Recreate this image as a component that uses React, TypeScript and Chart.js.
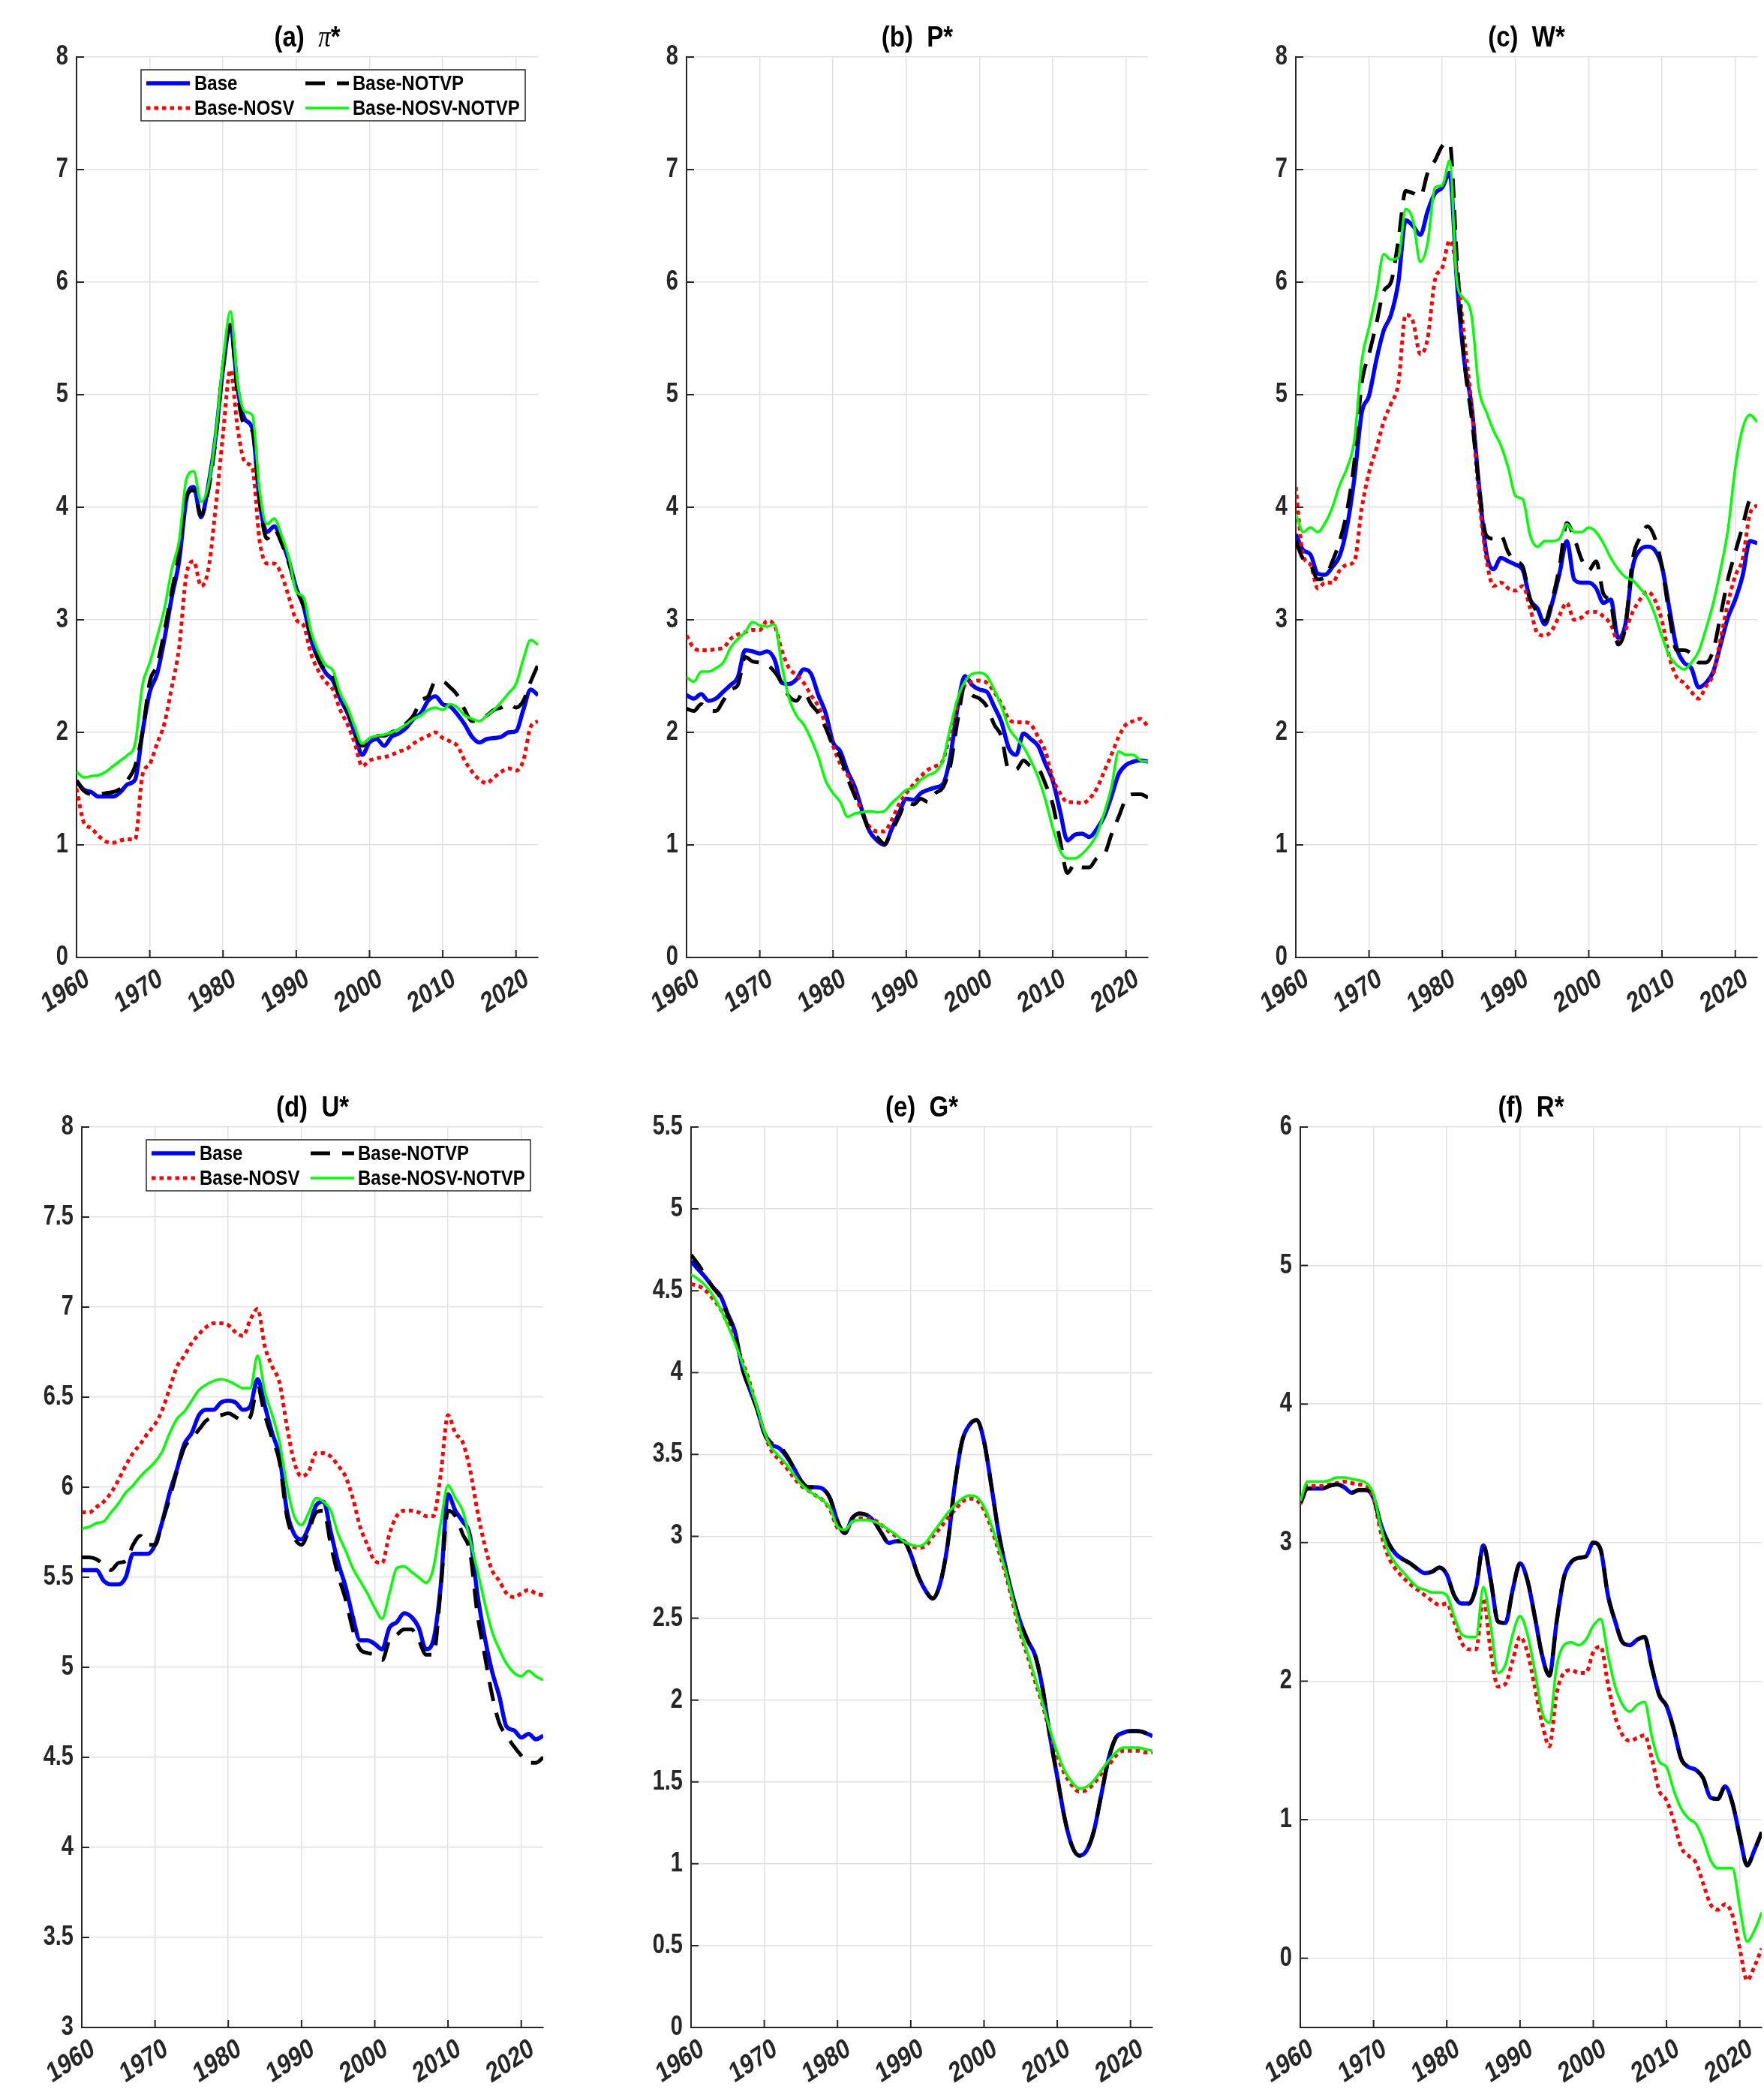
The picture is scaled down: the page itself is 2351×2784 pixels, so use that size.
import React, { useEffect, useRef } from "react";
import { Chart, registerables } from "chart.js";

Chart.register(...registerables);

// ---------------- data ----------------
const YEARS = [
  1960, 1961, 1962, 1963, 1964, 1965, 1966, 1967, 1968, 1969,
  1970, 1971, 1972, 1973, 1974, 1975, 1976, 1977, 1978, 1979,
  1980, 1981, 1982, 1983, 1984, 1985, 1986, 1987, 1988, 1989,
  1990, 1991, 1992, 1993, 1994, 1995, 1996, 1997, 1998, 1999,
  2000, 2001, 2002, 2003, 2004, 2005, 2006, 2007, 2008, 2009,
  2010, 2011, 2012, 2013, 2014, 2015, 2016, 2017, 2018, 2019,
  2020, 2021, 2022, 2023,
];

const X_TICKS = [1960, 1970, 1980, 1990, 2000, 2010, 2020];
const Y_TICKS_0_8 = [0, 1, 2, 3, 4, 5, 6, 7, 8];
const Y_TICKS_U = [3, 3.5, 4, 4.5, 5, 5.5, 6, 6.5, 7, 7.5, 8];
const Y_TICKS_G = [0, 0.5, 1, 1.5, 2, 2.5, 3, 3.5, 4, 4.5, 5, 5.5];
const Y_TICKS_R = [0, 1, 2, 3, 4, 5, 6];

const SERIES_LABELS = ["Base", "Base-NOSV", "Base-NOTVP", "Base-NOSV-NOTVP"];

// (a) pi*
const PI_BASE = [
  1.57, 1.49, 1.47, 1.43, 1.43, 1.43, 1.47, 1.54, 1.58, 2.0,
  2.36, 2.52, 2.83, 3.2, 3.52, 4.07, 4.18, 3.91, 4.2, 4.63,
  5.23, 5.62, 5.05, 4.78, 4.7, 4.05, 3.78, 3.83, 3.7, 3.52,
  3.28, 3.12, 2.83, 2.65, 2.53, 2.46, 2.3, 2.17, 1.99, 1.8,
  1.91, 1.94, 1.88, 1.96, 1.99, 2.04, 2.12, 2.17, 2.28, 2.32,
  2.25, 2.23, 2.16, 2.07, 1.96, 1.91, 1.94, 1.95, 1.96, 2.0,
  2.01, 2.2, 2.38, 2.33,
];
const PI_NOTVP = [
  1.57, 1.48, 1.45, 1.45, 1.46, 1.47, 1.5, 1.58, 1.7, 2.0,
  2.45, 2.6, 2.9, 3.25, 3.6, 4.1, 4.15, 3.93, 4.15, 4.6,
  5.25, 5.62, 5.0, 4.72, 4.68, 4.05, 3.72, 3.8, 3.68, 3.5,
  3.28, 3.12, 2.85, 2.65, 2.55, 2.5, 2.3, 2.2, 2.0, 1.88,
  1.93, 1.97, 1.97, 2.0, 2.03, 2.08, 2.15, 2.28, 2.32, 2.45,
  2.45, 2.4, 2.33, 2.2, 2.1, 2.12, 2.15, 2.2, 2.22, 2.25,
  2.22, 2.28, 2.45, 2.6,
];
const PI_NOSV = [
  1.5, 1.2, 1.15, 1.08, 1.03, 1.02, 1.04, 1.05, 1.05, 1.62,
  1.72, 1.9, 2.08, 2.4, 2.75, 3.4, 3.52, 3.3, 3.45, 4.0,
  4.65, 5.22, 4.7, 4.4, 4.35, 3.7, 3.5, 3.5, 3.4, 3.2,
  3.0, 2.95, 2.7, 2.55, 2.45, 2.38, 2.2, 2.07, 1.9, 1.7,
  1.75, 1.77, 1.78, 1.8, 1.83, 1.85, 1.9, 1.94, 1.97, 2.0,
  1.95, 1.92, 1.88, 1.75, 1.65, 1.58, 1.55, 1.6, 1.65, 1.68,
  1.66, 1.75, 2.05, 2.1,
];
const PI_NOSV_NOTVP = [
  1.65, 1.6, 1.61, 1.62, 1.65, 1.7, 1.75, 1.8, 1.9, 2.42,
  2.62, 2.85, 3.1, 3.45, 3.7, 4.25, 4.32, 4.05, 4.2, 4.65,
  5.3, 5.74, 5.1, 4.85, 4.82, 4.15, 3.85, 3.9, 3.75, 3.55,
  3.25, 3.2, 2.9, 2.72, 2.6, 2.55, 2.35, 2.22, 2.05, 1.9,
  1.95, 1.97, 1.98, 2.0, 2.03, 2.07, 2.12, 2.15, 2.2, 2.22,
  2.2, 2.25, 2.22, 2.15, 2.12, 2.1, 2.15, 2.2, 2.27, 2.35,
  2.43, 2.65, 2.82, 2.78,
];

// (b) P*
const P_BASE = [
  2.33, 2.3, 2.34, 2.28, 2.3, 2.36, 2.42, 2.49, 2.73, 2.72,
  2.7, 2.72, 2.65, 2.44, 2.43, 2.47, 2.56, 2.52, 2.33, 2.17,
  1.91, 1.83, 1.65, 1.51, 1.3, 1.12, 1.04, 1.0, 1.14, 1.28,
  1.41, 1.4, 1.46, 1.49, 1.51, 1.54, 1.78, 2.22, 2.5, 2.42,
  2.38, 2.36, 2.23, 2.09, 1.86, 1.8, 1.99, 1.94, 1.88, 1.72,
  1.57, 1.3, 1.04, 1.09, 1.1, 1.07, 1.14, 1.25, 1.43, 1.63,
  1.71, 1.74, 1.75, 1.74,
];
const P_NOTVP = [
  2.21, 2.19, 2.25, 2.2, 2.19, 2.28, 2.38, 2.42, 2.67, 2.63,
  2.62, 2.6, 2.54, 2.44, 2.32, 2.28, 2.36, 2.25, 2.17, 2.04,
  1.88, 1.78, 1.59, 1.43, 1.28, 1.12, 1.07, 1.01, 1.12, 1.25,
  1.38, 1.36, 1.41, 1.38, 1.46, 1.51, 1.7, 2.1, 2.41, 2.33,
  2.3, 2.23, 2.07, 1.96, 1.67, 1.67, 1.75, 1.7, 1.68, 1.54,
  1.36, 1.04, 0.75, 0.83, 0.8, 0.8, 0.88, 0.91, 1.09, 1.25,
  1.41, 1.45, 1.45, 1.42,
];
const P_NOSV = [
  2.86, 2.75, 2.73, 2.73, 2.74, 2.75, 2.83, 2.87, 2.89, 2.91,
  2.91, 2.99, 2.95, 2.73, 2.57, 2.51, 2.44, 2.33, 2.23, 2.07,
  1.88, 1.72, 1.62, 1.46, 1.28, 1.16, 1.12, 1.12, 1.22, 1.36,
  1.46, 1.54, 1.61, 1.67, 1.7, 1.75, 1.99, 2.25, 2.42, 2.45,
  2.46, 2.44, 2.36, 2.25, 2.12, 2.09, 2.09, 2.07, 1.96, 1.83,
  1.59, 1.46, 1.38, 1.38, 1.37, 1.41, 1.5, 1.65, 1.8, 1.96,
  2.07, 2.1, 2.12, 2.05,
];
const P_NOSV_NOTVP = [
  2.49, 2.45, 2.54, 2.54, 2.57, 2.62, 2.75, 2.83, 2.89, 2.98,
  2.95, 2.94, 2.96, 2.6, 2.3, 2.15, 2.07, 1.94, 1.78, 1.57,
  1.46, 1.38, 1.25, 1.28, 1.29, 1.3, 1.29, 1.3, 1.37, 1.43,
  1.49, 1.51, 1.58, 1.62, 1.65, 1.75, 2.04, 2.3, 2.45, 2.52,
  2.53, 2.5, 2.38, 2.23, 2.04, 1.95, 1.87, 1.75, 1.6, 1.4,
  1.15, 0.95, 0.88, 0.88, 0.92, 0.99, 1.09, 1.28, 1.51, 1.83,
  1.8, 1.8, 1.75, 1.74,
];

// (c) W*
const W_BASE = [
  3.76, 3.62, 3.58, 3.41, 3.4, 3.47, 3.57, 3.83, 4.26, 4.84,
  4.99, 5.31, 5.57, 5.71, 6.0, 6.55, 6.5, 6.42, 6.63, 6.79,
  6.84, 6.97, 6.0, 5.3, 4.9, 4.2, 3.6, 3.45, 3.55, 3.52,
  3.49, 3.44, 3.18, 3.1, 2.96, 3.15, 3.41, 3.7, 3.36, 3.33,
  3.33, 3.28, 3.15, 3.18, 2.84, 2.96, 3.47, 3.62, 3.65, 3.62,
  3.47, 3.1, 2.75, 2.62, 2.57, 2.4, 2.44, 2.54, 2.78, 3.02,
  3.18, 3.39, 3.7, 3.68,
];
const W_NOTVP = [
  3.7, 3.54, 3.49, 3.36, 3.38, 3.52, 3.7, 3.97, 4.41, 5.1,
  5.36, 5.63, 5.92, 6.0, 6.37, 6.81, 6.79, 6.76, 6.97, 7.08,
  7.21, 7.24, 6.2, 5.3, 4.8, 4.2, 3.75, 3.72, 3.75, 3.6,
  3.52, 3.47, 3.18, 3.07, 2.99, 3.18, 3.47, 3.86, 3.73, 3.54,
  3.44, 3.52, 3.23, 3.15, 2.78, 2.94, 3.54, 3.73, 3.83, 3.73,
  3.47, 3.04, 2.73, 2.73, 2.7, 2.62, 2.62, 2.73, 3.04, 3.36,
  3.6, 3.83, 4.07, 4.11,
];
const W_NOSV = [
  4.18, 3.57, 3.49, 3.28, 3.33, 3.33, 3.44, 3.49, 3.52, 3.99,
  4.31, 4.52, 4.76, 4.92, 5.1, 5.71, 5.65, 5.36, 5.5, 6.02,
  6.13, 6.37, 6.1, 5.5, 4.9, 4.1, 3.55, 3.3, 3.33, 3.28,
  3.26, 3.3, 3.1, 2.88, 2.86, 2.91, 3.04, 3.15, 3.0, 3.02,
  3.07, 3.07, 3.03, 2.96, 2.81, 2.91, 3.07, 3.18, 3.25, 3.18,
  2.99, 2.67, 2.49, 2.44, 2.36, 2.3, 2.41, 2.52, 2.83, 3.15,
  3.39, 3.54, 3.94, 4.02,
];
const W_NOSV_NOTVP = [
  3.94, 3.78, 3.82, 3.78, 3.86, 4.0, 4.2, 4.35, 4.6, 5.3,
  5.6, 5.9, 6.25, 6.2, 6.22, 6.65, 6.55, 6.18, 6.35, 6.84,
  6.86, 7.08, 6.0, 5.85, 5.7, 5.05, 4.85, 4.68, 4.55, 4.35,
  4.1, 4.07, 3.75, 3.65, 3.7, 3.7, 3.72, 3.85, 3.78, 3.78,
  3.82, 3.78, 3.68, 3.55, 3.45, 3.38, 3.35, 3.28, 3.2, 3.05,
  2.85, 2.68, 2.6, 2.56, 2.62, 2.72, 2.92, 3.15, 3.45, 3.8,
  4.35, 4.7, 4.82, 4.76,
];

// (d) U*
const U_BASE = [
  5.54, 5.54, 5.54, 5.48, 5.46, 5.46, 5.5, 5.63, 5.63, 5.63,
  5.68, 5.81, 5.97, 6.1, 6.24, 6.3, 6.4, 6.43, 6.43, 6.47,
  6.48, 6.47, 6.43, 6.45, 6.6, 6.45, 6.3, 6.17, 5.87, 5.74,
  5.71, 5.78, 5.9, 5.92, 5.75, 5.58, 5.45, 5.28, 5.15, 5.15,
  5.13, 5.1, 5.22, 5.25, 5.3, 5.28, 5.22, 5.1, 5.15, 5.45,
  5.96, 5.87, 5.81, 5.73, 5.41, 5.17, 4.98, 4.84, 4.67, 4.65,
  4.61, 4.63, 4.6, 4.62,
];
const U_NOTVP = [
  5.61, 5.61, 5.6, 5.57, 5.54, 5.58, 5.59, 5.68, 5.73, 5.68,
  5.68, 5.81, 5.94, 6.09, 6.22, 6.27, 6.32, 6.37, 6.39, 6.4,
  6.41, 6.39, 6.37, 6.39, 6.55, 6.4, 6.27, 6.14, 5.84, 5.72,
  5.68, 5.76, 5.86, 5.87, 5.68, 5.51, 5.38, 5.21, 5.1, 5.08,
  5.07, 5.04, 5.15, 5.18, 5.21, 5.21, 5.15, 5.07, 5.07, 5.43,
  5.87, 5.84, 5.74, 5.64, 5.3, 5.07, 4.85, 4.69, 4.62, 4.56,
  4.51, 4.47, 4.47, 4.5,
];
const U_NOSV = [
  5.86, 5.86, 5.89, 5.92, 5.97, 6.04, 6.12, 6.19, 6.24, 6.3,
  6.35, 6.43, 6.55, 6.67, 6.73, 6.8, 6.85, 6.89, 6.91, 6.91,
  6.9, 6.86, 6.84, 6.93, 6.99, 6.78, 6.67, 6.58, 6.34, 6.14,
  6.06, 6.09, 6.19, 6.19, 6.17, 6.12, 6.06, 5.94, 5.78, 5.68,
  5.59, 5.58, 5.74, 5.84, 5.87, 5.87, 5.86, 5.84, 5.84, 6.07,
  6.4, 6.3, 6.25, 6.1, 5.87, 5.68, 5.54, 5.48, 5.41, 5.39,
  5.41, 5.43, 5.41, 5.4,
];
const U_NOSV_NOTVP = [
  5.77, 5.78, 5.8, 5.81, 5.86, 5.91, 5.97, 6.01, 6.06, 6.1,
  6.14, 6.2, 6.3, 6.38, 6.42, 6.48, 6.54, 6.57, 6.59, 6.6,
  6.59, 6.57, 6.55, 6.55, 6.73, 6.53, 6.4, 6.25, 6.01, 5.84,
  5.79, 5.86, 5.94, 5.92, 5.87, 5.74, 5.65, 5.55, 5.48, 5.41,
  5.33, 5.27, 5.41, 5.55, 5.56, 5.53, 5.5, 5.47, 5.55, 5.8,
  6.01, 5.94, 5.87, 5.71, 5.54, 5.36, 5.2, 5.1, 5.02, 4.97,
  4.95, 4.98, 4.95, 4.93,
];

// (e) G*
const G_BASE = [
  4.68, 4.63, 4.58, 4.52, 4.47, 4.36, 4.25, 4.03, 3.9, 3.78,
  3.63, 3.56, 3.54, 3.49, 3.42, 3.34, 3.3, 3.3, 3.29, 3.23,
  3.09, 3.02, 3.11, 3.14, 3.13, 3.09, 3.02, 2.96, 2.97, 2.97,
  2.89, 2.76, 2.67, 2.62, 2.71, 2.94, 3.31, 3.58, 3.68, 3.71,
  3.58, 3.31, 3.02, 2.8, 2.62, 2.47, 2.36, 2.27, 2.07, 1.78,
  1.53, 1.28, 1.11, 1.05, 1.08, 1.2, 1.42, 1.64, 1.77, 1.8,
  1.81, 1.81, 1.8, 1.78,
];
const G_NOTVP = [
  4.72, 4.66, 4.59, 4.52, 4.46, 4.35, 4.24, 4.03, 3.9, 3.78,
  3.63, 3.57, 3.55, 3.5, 3.42, 3.34, 3.3, 3.3, 3.29, 3.23,
  3.09, 3.02, 3.11, 3.14, 3.13, 3.09, 3.02, 2.96, 2.97, 2.97,
  2.89, 2.76, 2.67, 2.62, 2.71, 2.94, 3.31, 3.58, 3.68, 3.71,
  3.58, 3.31, 3.02, 2.8, 2.62, 2.47, 2.36, 2.27, 2.07, 1.78,
  1.53, 1.28, 1.11, 1.05, 1.08, 1.2, 1.42, 1.64, 1.77, 1.8,
  1.81, 1.81, 1.8, 1.78,
];
const G_NOSV = [
  4.54, 4.53, 4.5, 4.45, 4.39, 4.3, 4.2, 4.07, 3.94, 3.78,
  3.63, 3.52, 3.47, 3.42, 3.36, 3.31, 3.28, 3.25, 3.22, 3.16,
  3.05, 3.03, 3.09, 3.11, 3.11, 3.1, 3.07, 3.03, 3.0, 2.96,
  2.94, 2.93, 2.94, 3.0, 3.05, 3.11, 3.16, 3.21, 3.23, 3.22,
  3.16, 3.05, 2.91, 2.76, 2.58, 2.4, 2.26, 2.11, 1.97, 1.8,
  1.66, 1.55, 1.48, 1.44, 1.45, 1.49, 1.55, 1.6, 1.66, 1.69,
  1.69, 1.69, 1.68, 1.68,
];
const G_NOSV_NOTVP = [
  4.6, 4.57, 4.53, 4.47, 4.39, 4.29, 4.18, 4.06, 3.93, 3.79,
  3.64, 3.54, 3.49, 3.44, 3.38, 3.32, 3.28, 3.25, 3.22, 3.17,
  3.06, 3.04, 3.09, 3.1, 3.1, 3.09, 3.07, 3.04, 3.01, 2.97,
  2.95, 2.94, 2.96, 3.02, 3.08, 3.14, 3.19, 3.23, 3.25, 3.24,
  3.18, 3.07, 2.93, 2.78, 2.6, 2.42, 2.28, 2.13, 1.98, 1.82,
  1.68, 1.57, 1.5, 1.46, 1.47, 1.51, 1.57, 1.63, 1.68, 1.71,
  1.71, 1.71, 1.7, 1.69,
];

// (f) R*
const R_BASE = [
  3.28, 3.39, 3.39, 3.39, 3.41, 3.42, 3.4, 3.36, 3.38, 3.38,
  3.32, 3.13, 3.0, 2.92, 2.88, 2.85, 2.81, 2.78, 2.79, 2.82,
  2.77, 2.62, 2.56, 2.56, 2.68, 2.98, 2.73, 2.43, 2.42, 2.66,
  2.85, 2.73, 2.47, 2.19, 2.04, 2.43, 2.75, 2.86, 2.89, 2.9,
  3.0, 2.95, 2.62, 2.43, 2.28, 2.26, 2.3, 2.32, 2.1, 1.9,
  1.82, 1.65, 1.44, 1.38, 1.36, 1.3, 1.16, 1.15, 1.24, 1.12,
  0.88, 0.67, 0.78, 0.91,
];
const R_NOTVP = [
  3.29, 3.39, 3.39, 3.39, 3.41, 3.42, 3.4, 3.36, 3.38, 3.38,
  3.32, 3.13, 3.0, 2.92, 2.88, 2.85, 2.81, 2.78, 2.79, 2.82,
  2.77, 2.62, 2.56, 2.56, 2.68, 2.98, 2.73, 2.43, 2.42, 2.66,
  2.85, 2.73, 2.47, 2.19, 2.04, 2.43, 2.75, 2.86, 2.89, 2.9,
  3.0, 2.95, 2.62, 2.43, 2.28, 2.26, 2.3, 2.32, 2.1, 1.9,
  1.82, 1.65, 1.44, 1.38, 1.36, 1.3, 1.16, 1.15, 1.24, 1.12,
  0.88, 0.67, 0.78, 0.91,
];
const R_NOSV = [
  3.28, 3.41, 3.41, 3.41, 3.42, 3.43, 3.44, 3.43, 3.42, 3.41,
  3.32, 3.07, 2.9, 2.81, 2.75, 2.7, 2.66, 2.62, 2.58, 2.55,
  2.56, 2.43, 2.28, 2.23, 2.23, 2.6, 2.21, 1.96, 1.98, 2.15,
  2.32, 2.21, 1.96, 1.7, 1.53, 1.91, 2.06, 2.08, 2.06, 2.06,
  2.21, 2.25, 1.98, 1.74, 1.61, 1.57, 1.59, 1.61, 1.44, 1.21,
  1.14, 0.99, 0.8, 0.74, 0.69, 0.54, 0.39, 0.35, 0.39, 0.31,
  0.07, -0.16, -0.06, 0.07,
];
const R_NOSV_NOTVP = [
  3.3, 3.44, 3.44, 3.44, 3.45, 3.47, 3.47, 3.46, 3.45, 3.43,
  3.35, 3.11, 2.94, 2.85, 2.79, 2.73, 2.68, 2.66, 2.64, 2.64,
  2.62, 2.47, 2.34, 2.32, 2.32, 2.68, 2.4, 2.06, 2.12, 2.34,
  2.47, 2.34, 2.08, 1.78, 1.7, 2.11, 2.26, 2.28, 2.26, 2.3,
  2.4, 2.45, 2.19, 1.96, 1.83, 1.78, 1.83, 1.85, 1.6, 1.42,
  1.38, 1.21, 1.08, 1.01, 0.97, 0.86, 0.71, 0.65, 0.65, 0.65,
  0.37, 0.12, 0.2, 0.33,
];

// ---------------- styling / layout ----------------
const FONT = '"Liberation Sans", Arial, Helvetica, sans-serif';
const AXIS_COLOR = "#262626";
const GRID_COLOR = "#e1e1e1";
const YTICK_SIZE = 29;
const XTICK_SIZE = 30;
const TITLE_SIZE = 33;
const LEGEND_SIZE = 24;
const SY_TICK = 1.25; // vertical stretch of glyphs seen in the reference
const SY_TITLE = 1.2;
const SY_LEGEND = 1.15;
const XLABEL_ANGLE = (28 * Math.PI) / 180;
const TICK_LEN = 10;

const PLOT_W = 615;
const PLOT_H = 1200;
const PAD_L = 100;
const PAD_T = 76;
const PAD_R = 3;
const PAD_B = 110;
const CW = PAD_L + PLOT_W + PAD_R;
const CH = PAD_T + PLOT_H + PAD_B;

type SeriesStyle = { color: string; width: number; dash: number[]; order: number };
const STYLE_BASE: SeriesStyle = { color: "#0000ff", width: 5.5, dash: [], order: 3 };
const STYLE_NOSV: SeriesStyle = { color: "#ff0000", width: 5, dash: [5.5, 5], order: 2 };
const STYLE_NOTVP: SeriesStyle = { color: "#000000", width: 5, dash: [26, 16], order: 1 };
const STYLE_NOSV_NOTVP: SeriesStyle = { color: "#00ff00", width: 3.5, dash: [], order: 0 };
const STYLES = [STYLE_BASE, STYLE_NOSV, STYLE_NOTVP, STYLE_NOSV_NOTVP];

type PanelSpec = {
  tag: string;
  sym: string;
  symItalic: boolean;
  left: number;
  top: number;
  yMin: number;
  yMax: number;
  yTicks: number[];
  series: number[][]; // Base, NOSV, NOTVP, NOSV-NOTVP
  legend: boolean;
};

const PANELS: PanelSpec[] = [
  { tag: "(a)", sym: "π", symItalic: true, left: 102, top: 76, yMin: 0, yMax: 8, yTicks: Y_TICKS_0_8,
    series: [PI_BASE, PI_NOSV, PI_NOTVP, PI_NOSV_NOTVP], legend: true },
  { tag: "(b)", sym: "P", symItalic: false, left: 915, top: 76, yMin: 0, yMax: 8, yTicks: Y_TICKS_0_8,
    series: [P_BASE, P_NOSV, P_NOTVP, P_NOSV_NOTVP], legend: false },
  { tag: "(c)", sym: "W", symItalic: false, left: 1727, top: 76, yMin: 0, yMax: 8, yTicks: Y_TICKS_0_8,
    series: [W_BASE, W_NOSV, W_NOTVP, W_NOSV_NOTVP], legend: false },
  { tag: "(d)", sym: "U", symItalic: false, left: 109, top: 1502, yMin: 3, yMax: 8, yTicks: Y_TICKS_U,
    series: [U_BASE, U_NOSV, U_NOTVP, U_NOSV_NOTVP], legend: true },
  { tag: "(e)", sym: "G", symItalic: false, left: 921, top: 1502, yMin: 0, yMax: 5.5, yTicks: Y_TICKS_G,
    series: [G_BASE, G_NOSV, G_NOTVP, G_NOSV_NOTVP], legend: false },
  { tag: "(f)", sym: "R", symItalic: false, left: 1733, top: 1502, yMin: -0.5, yMax: 6, yTicks: Y_TICKS_R,
    series: [R_BASE, R_NOSV, R_NOTVP, R_NOSV_NOTVP], legend: false },
];

function stretchedText(
  ctx: CanvasRenderingContext2D,
  text: string,
  x: number,
  y: number,
  font: string,
  align: CanvasTextAlign,
  baseline: CanvasTextBaseline,
  sy: number,
  angle = 0
) {
  ctx.save();
  ctx.translate(x, y);
  ctx.scale(1, sy);
  if (angle) ctx.rotate(-angle);
  ctx.font = font;
  ctx.textAlign = align;
  ctx.textBaseline = baseline;
  ctx.fillText(text, 0, 0);
  ctx.restore();
}

function drawSample(ctx: CanvasRenderingContext2D, st: SeriesStyle, x0: number, x1: number, y: number) {
  ctx.save();
  ctx.strokeStyle = st.color;
  ctx.lineWidth = st.width;
  ctx.setLineDash(st.dash);
  ctx.lineCap = "butt";
  ctx.beginPath();
  ctx.moveTo(x0, y);
  ctx.lineTo(x1, y);
  ctx.stroke();
  ctx.restore();
}

function makeDecor(spec: PanelSpec) {
  return {
    id: "panelDecor",
    beforeDatasetsDraw(chart: any) {
      const { ctx, chartArea: a, scales } = chart;
      ctx.save();
      ctx.strokeStyle = AXIS_COLOR;
      ctx.lineWidth = 2;
      ctx.beginPath();
      for (const v of X_TICKS) {
        const px = scales.x.getPixelForValue(v);
        ctx.moveTo(px, a.bottom);
        ctx.lineTo(px, a.bottom - TICK_LEN);
      }
      for (const v of spec.yTicks) {
        const py = scales.y.getPixelForValue(v);
        ctx.moveTo(a.left, py);
        ctx.lineTo(a.left + TICK_LEN, py);
      }
      ctx.stroke();
      ctx.restore();
    },
    afterDraw(chart: any) {
      const { ctx, chartArea: a, scales } = chart;
      ctx.save();
      ctx.fillStyle = AXIS_COLOR;
      // y tick labels
      const yFont = `bold ${YTICK_SIZE}px ${FONT}`;
      for (const v of spec.yTicks) {
        const py = scales.y.getPixelForValue(v);
        stretchedText(ctx, String(v), a.left - 11, py, yFont, "right", "middle", SY_TICK);
      }
      // x tick labels (rotated)
      const xFont = `bold ${XTICK_SIZE}px ${FONT}`;
      for (const v of X_TICKS) {
        const px = scales.x.getPixelForValue(v);
        stretchedText(ctx, String(v), px + 15, a.bottom + 26, xFont, "right", "middle", SY_TICK, XLABEL_ANGLE);
      }

      // title
      ctx.fillStyle = "#000";
      const bold = `bold ${TITLE_SIZE}px ${FONT}`;
      const parts = [
        { text: spec.tag + "  ", font: bold },
        { text: spec.sym, font: spec.symItalic ? `italic ${TITLE_SIZE}px "Liberation Serif", serif` : bold },
        { text: "*", font: bold },
      ];
      const widths = parts.map((p) => {
        ctx.font = p.font;
        return ctx.measureText(p.text).width;
      });
      const total = widths.reduce((s, w) => s + w, 0);
      let x = (a.left + a.right) / 2 - total / 2;
      parts.forEach((p, i) => {
        stretchedText(ctx, p.text, x, a.top - 14, p.font, "left", "alphabetic", SY_TITLE);
        x += widths[i];
      });

      // legend
      if (spec.legend) {
        const bx = a.left + 86;
        const by = a.top + 17;
        const bw = 512;
        const bh = 68;
        ctx.fillStyle = "#fff";
        ctx.fillRect(bx, by, bw, bh);
        ctx.strokeStyle = AXIS_COLOR;
        ctx.lineWidth = 1.5;
        ctx.setLineDash([]);
        ctx.strokeRect(bx, by, bw, bh);
        const rows = [by + 18, by + 51];
        const cols = [bx + 7, bx + 219];
        const lFont = `bold ${LEGEND_SIZE}px ${FONT}`;
        ctx.fillStyle = "#000";
        // column-major: Base, Base-NOSV | Base-NOTVP, Base-NOSV-NOTVP
        for (let i = 0; i < 4; i++) {
          const c = Math.floor(i / 2);
          const r = i % 2;
          drawSample(ctx, STYLES[i], cols[c], cols[c] + 58, rows[r]);
          stretchedText(ctx, SERIES_LABELS[i], cols[c] + (c === 0 ? 64 : 63), rows[r] + 1, lFont, "left", "middle", SY_LEGEND);
        }
      }
      ctx.restore();
    },
  };
}

function Panel({ spec }: { spec: PanelSpec }) {
  const ref = useRef<HTMLCanvasElement>(null);
  useEffect(() => {
    const canvas = ref.current;
    if (!canvas) return;
    const datasets = spec.series.map((vals, i) => ({
      label: SERIES_LABELS[i],
      data: YEARS.map((yr, k) => ({ x: yr, y: vals[k] })),
      borderColor: STYLES[i].color,
      backgroundColor: STYLES[i].color,
      borderWidth: STYLES[i].width,
      borderDash: STYLES[i].dash,
      borderCapStyle: "butt" as const,
      borderJoinStyle: "round" as const,
      pointRadius: 0,
      fill: false,
      cubicInterpolationMode: "monotone" as const,
      order: STYLES[i].order,
    }));
    const chart = new Chart(canvas, {
      type: "line",
      data: { datasets },
      options: {
        responsive: false,
        animation: false,
        devicePixelRatio: 1,
        events: [],
        layout: { padding: { top: PAD_T, right: PAD_R, left: 0, bottom: 0 } },
        plugins: {
          legend: { display: false },
          title: { display: false },
          tooltip: { enabled: false },
        },
        scales: {
          x: {
            type: "linear",
            position: "bottom",
            min: 1960,
            max: 2023,
            afterFit: (s: any) => {
              s.height = PAD_B;
            },
            afterBuildTicks: (s: any) => {
              s.ticks = X_TICKS.map((v) => ({ value: v }));
            },
            ticks: { display: false, autoSkip: false },
            grid: { color: GRID_COLOR, lineWidth: 1.5, drawTicks: false },
            border: { display: true, color: AXIS_COLOR, width: 2 },
          },
          y: {
            type: "linear",
            position: "left",
            min: spec.yMin,
            max: spec.yMax,
            afterFit: (s: any) => {
              s.width = PAD_L;
            },
            afterBuildTicks: (s: any) => {
              s.ticks = spec.yTicks.map((v) => ({ value: v }));
            },
            ticks: { display: false },
            grid: { color: GRID_COLOR, lineWidth: 1.5, drawTicks: false },
            border: { display: true, color: AXIS_COLOR, width: 2 },
          },
        },
      },
      plugins: [makeDecor(spec)],
    });
    return () => chart.destroy();
  }, [spec]);
  return (
    <canvas
      ref={ref}
      width={CW}
      height={CH}
      style={{
        position: "absolute",
        left: spec.left - PAD_L,
        top: spec.top - PAD_T,
        width: CW,
        height: CH,
      }}
    />
  );
}

export default function App() {
  return (
    <div
      style={{
        position: "absolute",
        left: 0,
        top: 0,
        width: 2351,
        height: 2784,
        overflow: "hidden",
        background: "#fff",
      }}
    >
      {PANELS.map((p) => (
        <Panel key={p.tag} spec={p} />
      ))}
    </div>
  );
}
